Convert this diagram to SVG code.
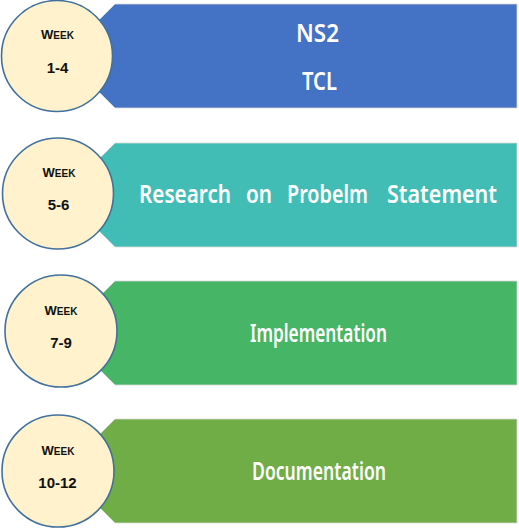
<svg xmlns="http://www.w3.org/2000/svg" width="519" height="528" viewBox="0 0 519 528">
<style>
.banner{stroke:#d9d9d9;stroke-width:0.8}
.circ{fill:#FFF2CC;stroke:#41719C;stroke-width:1.6}
.wk{font-family:"Liberation Sans",Arial,sans-serif;font-weight:bold;fill:#111;text-anchor:middle}
.bt{font-family:"Noto Sans","Liberation Sans",sans-serif;font-weight:600;fill:#fff;font-size:25px}
</style>
<g id="connectors"></g>
<g id="row1">
<polygon class="banner" fill="#4472C4" points="115,4 517,4 517,108 115,108 85,78 85,34"/>
<circle class="circ" cx="57" cy="56" r="55.5"/>
<text class="wk" x="57.5" y="39" font-size="13">W<tspan font-size="10">EEK</tspan></text>
<text class="wk" x="57.5" y="73" font-size="15">1-4</text>
<text class="bt" x="296" y="42" textLength="43" lengthAdjust="spacingAndGlyphs">NS2</text>
<text class="bt" x="302" y="90" textLength="35" lengthAdjust="spacingAndGlyphs">TCL</text>
</g>
<g id="row2">
<polygon class="banner" fill="#42BDB6" points="115,143 517,143 517,247 115,247 85,217 85,173"/>
<circle class="circ" cx="58" cy="193.5" r="55.5"/>
<text class="wk" x="59" y="177" font-size="13">W<tspan font-size="10">EEK</tspan></text>
<text class="wk" x="58.5" y="210" font-size="15">5-6</text>
<text class="bt" y="203"><tspan x="139" textLength="92" lengthAdjust="spacingAndGlyphs">Research</tspan> <tspan x="246" textLength="26" lengthAdjust="spacingAndGlyphs">on</tspan> <tspan x="287" textLength="81" lengthAdjust="spacingAndGlyphs">Probelm</tspan> <tspan x="387" textLength="110" lengthAdjust="spacingAndGlyphs">Statement</tspan></text>
</g>
<g id="row3">
<polygon class="banner" fill="#46B565" points="115,281 517,281 517,385 115,385 85,355 85,311"/>
<circle class="circ" cx="61" cy="331" r="56"/>
<text class="wk" x="61" y="315" font-size="13">W<tspan font-size="10">EEK</tspan></text>
<text class="wk" x="61" y="348" font-size="15">7-9</text>
<text class="bt" x="250" y="342" textLength="137" lengthAdjust="spacingAndGlyphs">Implementation</text>
</g>
<g id="row4">
<polygon class="banner" fill="#70AD47" points="115,419 517,419 517,523 115,523 85,493 85,449"/>
<circle class="circ" cx="58" cy="471" r="56"/>
<text class="wk" x="58" y="455" font-size="13">W<tspan font-size="10">EEK</tspan></text>
<text class="wk" x="57.5" y="488" font-size="15">10-12</text>
<text class="bt" x="252" y="480" textLength="134" lengthAdjust="spacingAndGlyphs">Documentation</text>
</g>
</svg>
